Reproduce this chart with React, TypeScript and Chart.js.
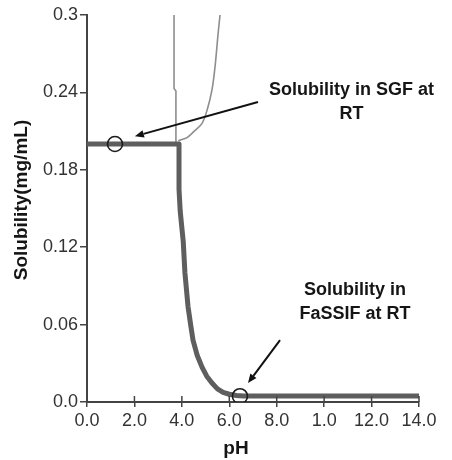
import { useEffect, useRef } from 'react';
import { Chart, registerables } from 'chart.js';

Chart.register(...registerables);

// Axis ticks
const xTickValues = [0, 2, 4, 6, 8, 10, 12, 14];
const xTickLabels = ['0.0', '2.0', '4.0', '6.0', '8.0', '1.0', '12.0', '14.0'];
const yTickValues = [0, 0.06, 0.12, 0.18, 0.24, 0.3];
const yTickLabels = ['0.0', '0.06', '0.12', '0.18', '0.24', '0.3'];

// Thick pH-solubility profile
const profilePH = [0, 3.88, 3.88, 3.93, 4.0, 4.06, 4.13, 4.26, 4.37, 4.47, 4.65, 4.85, 5.05, 5.27, 5.5, 5.74, 6.0, 6.3, 6.6, 14];
const profileSol = [0.2, 0.2, 0.165, 0.148, 0.135, 0.124, 0.1, 0.074, 0.06, 0.048, 0.036, 0.027, 0.02, 0.0147, 0.0102, 0.0075, 0.006, 0.0051, 0.0047, 0.0047];

// Thin curve 1 (near-vertical)
const saltPH = [3.67, 3.67, 3.75, 3.75];
const saltSol = [0.3, 0.243, 0.241, 0.2];

// Thin curve 2 (rising)
const freePH = [3.85, 4.01, 4.22, 4.47, 4.85, 5.06, 5.27, 5.4, 5.53, 5.61];
const freeSol = [0.2025, 0.2035, 0.205, 0.209, 0.216, 0.226, 0.242, 0.26, 0.286, 0.3];

// Open circle markers
const markerPH = [1.18, 6.45];
const markerSol = [0.2, 0.0045];

// Annotations
const noteLines = [['Solubility in SGF at', 'RT'], ['Solubility in', 'FaSSIF at RT']];
const notePH = [11.15, 11.3];
const noteSol = [0.2419, 0.0868];
const arrowFromPH = [7.21, 8.14];
const arrowFromSol = [0.2326, 0.048];
const arrowToPH = [2.02, 6.79];
const arrowToSol = [0.206, 0.0147];

const FONT = '"Liberation Sans", Arial, Helvetica, sans-serif';

const toPts = (xs: number[], ys: number[]) => xs.map((v, i) => ({ x: v, y: ys[i] }));

const overlayPlugin = {
  id: 'overlay',
  afterDatasetsDraw(chart: any) {
    const { ctx, chartArea } = chart;
    const xs = chart.scales.x;
    const ys = chart.scales.y;
    ctx.save();
    // inner part of x ticks (cross the axis)
    ctx.strokeStyle = '#444';
    ctx.lineWidth = 1.5;
    xTickValues.forEach((v) => {
      if (v === 0) return;
      const px = xs.getPixelForValue(v);
      ctx.beginPath();
      ctx.moveTo(px, chartArea.bottom - 6);
      ctx.lineTo(px, chartArea.bottom);
      ctx.stroke();
    });
    // arrows
    ctx.strokeStyle = '#111';
    ctx.fillStyle = '#111';
    ctx.lineWidth = 2;
    arrowFromPH.forEach((_, i) => {
      const x0 = xs.getPixelForValue(arrowFromPH[i]);
      const y0 = ys.getPixelForValue(arrowFromSol[i]);
      const x1 = xs.getPixelForValue(arrowToPH[i]);
      const y1 = ys.getPixelForValue(arrowToSol[i]);
      const ang = Math.atan2(y1 - y0, x1 - x0);
      const hl = 9;
      const hw = 3.8;
      const bx = x1 - hl * Math.cos(ang);
      const by = y1 - hl * Math.sin(ang);
      ctx.beginPath();
      ctx.moveTo(x0, y0);
      ctx.lineTo(bx, by);
      ctx.stroke();
      ctx.beginPath();
      ctx.moveTo(x1, y1);
      ctx.lineTo(bx + hw * Math.sin(ang), by - hw * Math.cos(ang));
      ctx.lineTo(bx - hw * Math.sin(ang), by + hw * Math.cos(ang));
      ctx.closePath();
      ctx.fill();
    });
    // annotation text
    ctx.font = 'bold 18px ' + FONT;
    ctx.textAlign = 'center';
    ctx.textBaseline = 'middle';
    ctx.fillStyle = '#151515';
    noteLines.forEach((lines, i) => {
      const cx = xs.getPixelForValue(notePH[i]);
      const cy = ys.getPixelForValue(noteSol[i]);
      lines.forEach((t, j) => ctx.fillText(t, cx, cy + j * 24));
    });
    ctx.restore();
  },
  afterDraw(chart: any) {
    const { ctx } = chart;
    ctx.save();
    ctx.fillStyle = '#151515';
    ctx.font = 'bold 19px ' + FONT;
    ctx.textAlign = 'center';
    ctx.textBaseline = 'middle';
    ctx.translate(22, 200);
    ctx.rotate(-Math.PI / 2);
    ctx.fillText('Solubility(mg/mL)', 0, 0);
    ctx.restore();
    ctx.save();
    ctx.fillStyle = '#151515';
    ctx.font = 'bold 19px ' + FONT;
    ctx.textAlign = 'center';
    ctx.textBaseline = 'middle';
    ctx.fillText('pH', 236, 449);
    ctx.restore();
  },
};

export default function App() {
  const ref = useRef<HTMLCanvasElement>(null);
  useEffect(() => {
    if (!ref.current) return;
    const chart = new Chart(ref.current, {
      type: 'scatter',
      data: {
        datasets: [
          {
            data: toPts(markerPH, markerSol),
            pointStyle: 'circle',
            pointRadius: 7.5,
            pointBorderColor: '#1a1a1a',
            pointBorderWidth: 1.6,
            pointBackgroundColor: 'rgba(0,0,0,0)',
            showLine: false,
            order: 0,
          },
          {
            data: toPts(profilePH, profileSol),
            showLine: true,
            borderColor: '#5e5e5e',
            borderWidth: 5,
            pointRadius: 0,
            tension: 0,
            borderJoinStyle: 'round',
            order: 1,
          },
          {
            data: toPts(saltPH, saltSol),
            showLine: true,
            borderColor: '#8e8e8e',
            borderWidth: 1.6,
            pointRadius: 0,
            order: 2,
          },
          {
            data: toPts(freePH, freeSol),
            showLine: true,
            borderColor: '#8e8e8e',
            borderWidth: 1.6,
            pointRadius: 0,
            tension: 0.3,
            order: 2,
          },
        ],
      },
      options: {
        responsive: false,
        animation: false,
        layout: { padding: { left: 0, right: 33, top: 15, bottom: 0 } },
        plugins: { legend: { display: false }, tooltip: { enabled: false } },
        scales: {
          x: {
            type: 'linear',
            min: 0,
            max: 14,
            afterBuildTicks: (s: any) => {
              s.ticks = xTickValues.map((v) => ({ value: v }));
            },
            afterFit: (s: any) => {
              s.height = 58;
            },
            ticks: {
              callback: (_v: any, i: number) => xTickLabels[i],
              font: { family: FONT, size: 18 },
              color: '#333',
              padding: 3,
              maxRotation: 0,
              autoSkip: false,
            },
            grid: { drawOnChartArea: false, drawTicks: true, tickLength: 5, color: '#444', lineWidth: 1.5 },
            border: { color: '#444', width: 2 },
          },
          y: {
            type: 'linear',
            min: 0,
            max: 0.3,
            afterBuildTicks: (s: any) => {
              s.ticks = yTickValues.map((v) => ({ value: v }));
            },
            afterFit: (s: any) => {
              s.width = 87;
            },
            ticks: {
              callback: (_v: any, i: number) => yTickLabels[i],
              font: { family: FONT, size: 18 },
              color: '#333',
              padding: 2,
              autoSkip: false,
            },
            grid: { drawOnChartArea: false, drawTicks: true, tickLength: 7, color: '#444', lineWidth: 1.5 },
            border: { color: '#444', width: 2 },
          },
        },
      },
      plugins: [overlayPlugin],
    });
    return () => chart.destroy();
  }, []);
  return (
    <div style={{ position: 'absolute', left: 0, top: 0, width: 452, height: 460, background: '#fff' }}>
      <canvas ref={ref} width={452} height={460} style={{ display: 'block' }} />
    </div>
  );
}
